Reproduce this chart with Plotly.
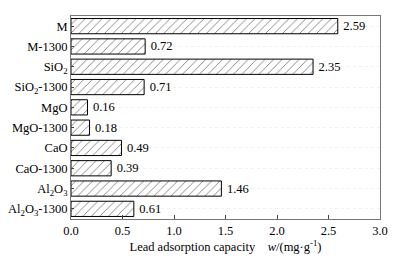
import plotly.graph_objects as go

categories = ["M", "M-1300", "SiO<sub>2</sub>", "SiO<sub>2</sub>-1300", "MgO", "MgO-1300",
              "CaO", "CaO-1300", "Al<sub>2</sub>O<sub>3</sub>", "Al<sub>2</sub>O<sub>3</sub>-1300"]
values = [2.59, 0.72, 2.35, 0.71, 0.16, 0.18, 0.49, 0.39, 1.46, 0.61]
labels = ["2.59", "0.72", "2.35", "0.71", "0.16", "0.18", "0.49", "0.39", "1.46", "0.61"]
xticks = [0.0, 0.5, 1.0, 1.5, 2.0, 2.5, 3.0]

font = "Liberation Serif, Times New Roman, serif"
fs = 12.5

fig = go.Figure(go.Bar(
    y=categories, x=values, orientation="h",
    text=["\u2009" + t for t in labels], textposition="outside", cliponaxis=False,
    textfont=dict(family=font, size=fs, color="black"),
    marker=dict(color="white", line=dict(color="black", width=1),
                pattern=dict(shape="/", fgcolor="black", bgcolor="white", size=6, solidity=0.15)),
    width=0.75,
    hoverinfo="skip",
))

fig.update_layout(
    width=405, height=267,
    margin=dict(l=71, r=25, t=16, b=48),
    paper_bgcolor="white", plot_bgcolor="white",
    font=dict(family=font, size=fs, color="black"),
    showlegend=False,
    xaxis=dict(range=[0, 3.0], tickvals=xticks, ticktext=[f"{v:.1f}" for v in xticks],
               ticks="inside", ticklen=4, tickcolor="#444", showline=True, linecolor="#777",
               mirror=True, showgrid=False, zeroline=False, automargin=False,
               tickfont=dict(family=font, size=fs),
               title=dict(text="Lead adsorption capacity    <i>w</i>/(mg·g<sup>-1</sup>)",
                          font=dict(family=font, size=fs), standoff=4)),
    yaxis=dict(autorange="reversed", ticks="inside", ticklen=3, tickcolor="#444",
               showline=True, linecolor="#777", mirror=True, automargin=False,
               tickfont=dict(family=font, size=fs),
               showgrid=True, gridcolor="#f0f0f0", griddash="dot"),
)

fig.write_html("out.html", config={"displayModeBar": False},
               post_script="document.body.style.margin='0';document.body.style.padding='0';")
